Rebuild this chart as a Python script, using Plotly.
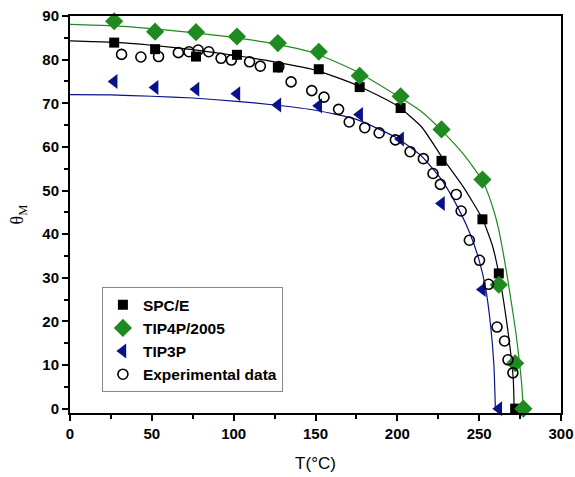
import plotly.graph_objects as go

# Simulation data (temperature in °C, contact angle θM)
spce_T = [27, 52, 77, 102, 127, 152, 177, 202, 227, 252, 262, 272]
spce_theta = [83.9, 82.4, 80.7, 81.1, 78.2, 77.8, 73.7, 68.9, 56.8, 43.4, 31.0, 0.0]

tip4p_T = [27, 52, 77, 102, 127, 152, 177, 202, 227, 252, 262, 272, 277]
tip4p_theta = [88.8, 86.4, 86.3, 85.3, 83.8, 81.8, 76.3, 71.6, 64.0, 52.5, 28.4, 10.4, 0.0]

tip3p_T = [27, 52, 77, 102, 127, 152, 177, 202, 227, 252, 262]
tip3p_theta = [75.0, 73.6, 73.2, 72.2, 69.6, 69.4, 67.4, 61.8, 47.0, 27.3, 0.0]

exp_T = [31.5, 43.3, 54.1, 66.2, 72.7, 78.3, 84.8, 92.3, 98.6, 109.7, 116.3, 127.6, 135.1,
         147.7, 155.2, 164.1, 170.6, 180.1, 188.9, 198.8, 207.8, 215.9, 221.8, 226.3,
         236, 239, 244, 250.2, 255.7, 260.9, 265.5, 267.6, 270.6]
exp_theta = [81.2, 80.6, 80.7, 81.6, 81.8, 82.2, 81.8, 80.3, 79.9, 79.5, 78.5, 78.4, 74.9,
             72.9, 71.4, 68.6, 65.7, 64.4, 63.2, 61.6, 58.9, 57.3, 53.9, 51.4,
             49.1, 45.3, 38.6, 34.0, 28.5, 18.7, 15.5, 11.2, 8.2]

# Fitted curves
fit_spce_T = [0, 25, 50, 75, 100, 125, 150, 175, 200, 215, 227, 240, 252, 258, 262, 265, 267.5, 269.5, 270.8, 271.4]
fit_spce_theta = [84.3, 84.0, 83.3, 82.3, 81.0, 79.5, 77.6, 74.2, 69.4, 64.5, 57.8, 51.0, 43.5, 37.5, 31.0, 24.5, 18.0, 12.0, 7.0, 0.0]

fit_tip4p_T = [0, 25, 50, 75, 100, 125, 150, 175, 200, 215, 227, 240, 252, 258, 262, 265, 267.5, 270, 272.4, 274.5, 276, 276.9]
fit_tip4p_theta = [88.1, 87.8, 87.1, 86.2, 85.1, 83.6, 81.4, 77.3, 71.7, 68.0, 63.8, 58.5, 52.3, 46.5, 41.0, 35.0, 29.5, 23.5, 17.5, 11.0, 5.5, 0.0]

fit_tip3p_T = [0, 25, 50, 75, 100, 125, 150, 175, 200, 215, 227, 235, 244, 250, 254, 257, 259, 259.9]
fit_tip3p_theta = [72.0, 71.9, 71.6, 71.2, 70.5, 69.6, 68.4, 66.3, 62.0, 57.8, 52.5, 47.5, 40.5, 34.0, 27.5, 19.0, 10.0, 0.0]

x_ticks = [0, 50, 100, 150, 200, 250, 300]
x_minor = [25, 75, 125, 175, 225, 275]
y_ticks = [0, 10, 20, 30, 40, 50, 60, 70, 80, 90]
y_minor = [5, 15, 25, 35, 45, 55, 65, 75, 85]

GREEN = "#1f8a1f"
NAVY = "#0a128a"
BLACK = "#000000"

fig = go.Figure()

for xs, ys, c in [(fit_spce_T, fit_spce_theta, BLACK),
                  (fit_tip4p_T, fit_tip4p_theta, GREEN),
                  (fit_tip3p_T, fit_tip3p_theta, NAVY)]:
    fig.add_trace(go.Scatter(x=xs, y=ys, mode="lines", showlegend=False,
                             line=dict(color=c, width=1.2, shape="spline", smoothing=0.5),
                             hoverinfo="skip"))

fig.add_trace(go.Scatter(x=spce_T, y=spce_theta, mode="markers", name="SPC/E",
                         marker=dict(symbol="square", size=10, color=BLACK),
                         cliponaxis=False))
fig.add_trace(go.Scatter(x=tip4p_T, y=tip4p_theta, mode="markers", name="TIP4P/2005",
                         marker=dict(symbol="diamond", size=14, color=GREEN),
                         cliponaxis=False))
fig.add_trace(go.Scatter(x=tip3p_T, y=tip3p_theta, mode="markers", name="TIP3P",
                         marker=dict(symbol="triangle-left", size=13, color=NAVY),
                         cliponaxis=False))
fig.add_trace(go.Scatter(x=exp_T, y=exp_theta, mode="markers", name="Experimental data",
                         marker=dict(symbol="circle-open", size=10, color=BLACK,
                                     line=dict(width=1.6, color=BLACK)),
                         cliponaxis=False))

tickfont = dict(family="Arial", size=15, color="black", weight="bold")

fig.update_layout(
    width=575, height=477,
    margin=dict(l=70, r=14, t=16, b=64),
    paper_bgcolor="white", plot_bgcolor="white",
    font=dict(family="Arial", color="black"),
    legend=dict(x=0.065, y=0.317, xanchor="left", yanchor="top",
                bordercolor="#888888", borderwidth=1, bgcolor="white",
                font=dict(family="Arial", size=15.5, color="black", weight="bold"),
                tracegroupgap=0),
    xaxis=dict(range=[0, 300], tickvals=x_ticks, automargin=False,
               ticks="outside", ticklen=6, tickwidth=2, tickcolor="black",
               minor=dict(tickvals=x_minor, ticks="outside",
                          ticklen=4, tickwidth=2, tickcolor="black"),
               showline=True, linecolor="black", linewidth=2, mirror=True,
               showgrid=False, zeroline=False, tickfont=tickfont,
               title=dict(text="T(°C)", font=dict(family="Arial", size=17, color="black"),
                          standoff=16)),
    yaxis=dict(range=[-1, 90], tickvals=y_ticks, automargin=False,
               ticks="outside", ticklen=6, tickwidth=2, tickcolor="black",
               minor=dict(tickvals=y_minor, ticks="outside",
                          ticklen=4, tickwidth=2, tickcolor="black"),
               showline=True, linecolor="black", linewidth=2, mirror=True,
               showgrid=False, zeroline=False, tickfont=tickfont,
               title=dict(text="θ<sub>M</sub>", font=dict(family="Times New Roman", size=18, color="black"),
                          standoff=14)),
)

fig.write_html("out.html", config={"displayModeBar": False},
               post_script="document.body.style.margin='0';")
